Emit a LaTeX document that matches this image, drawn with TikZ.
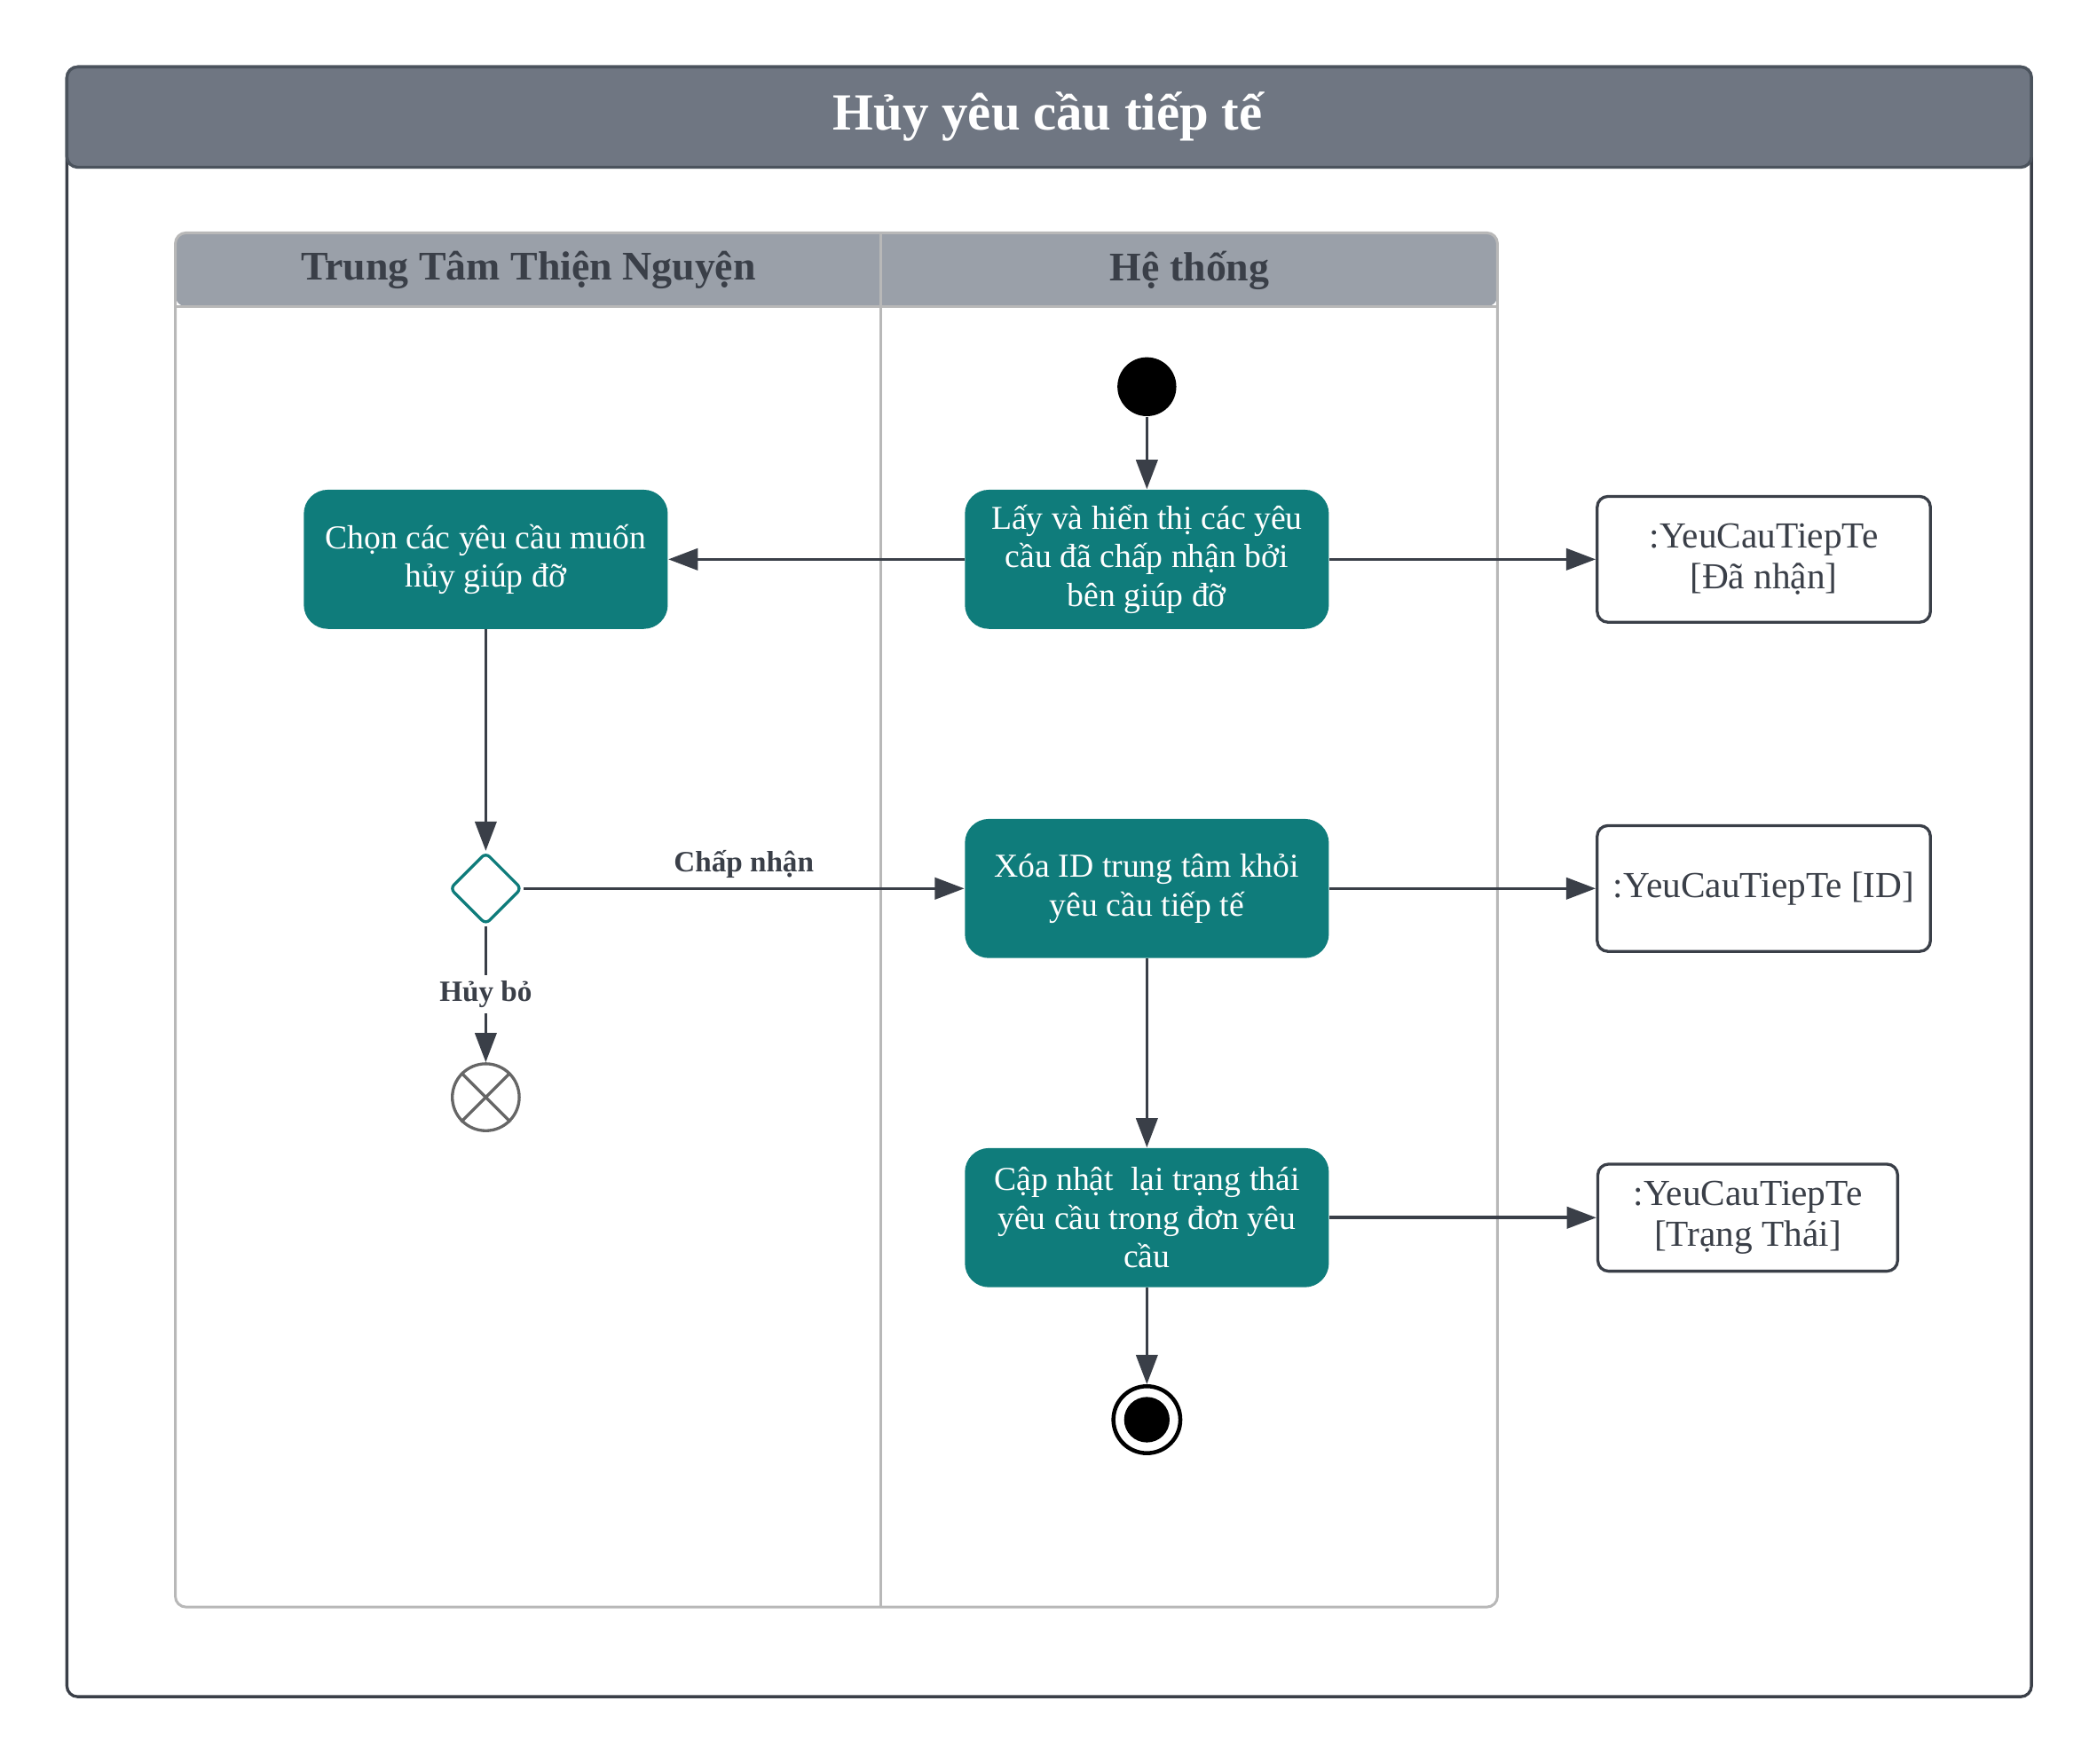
\documentclass[tikz,border=0pt]{standalone}
\usepackage{fontspec}
\setmainfont{Liberation Serif}
\usetikzlibrary{arrows.meta,shapes.geometric}
\definecolor{actteal}{HTML}{0F7C7B}
\definecolor{linedark}{HTML}{3A3F48}
\definecolor{titlegray}{HTML}{6F7682}
\definecolor{titleedge}{HTML}{4B535D}
\definecolor{lanegray}{HTML}{9AA0A9}
\definecolor{lanestroke}{HTML}{B8B8B8}
\definecolor{finalgray}{HTML}{666666}
\tikzset{
  action/.style={fill=actteal, rounded corners=9pt, minimum width=136pt, minimum height=52pt,
    align=center, text=white, inner sep=2pt, font=\fontsize{12.5}{14.5}\selectfont},
  object/.style={draw=linedark, line width=1.1pt, fill=white, rounded corners=4pt,
    minimum width=124.5pt, minimum height=47pt, align=center, text=linedark,
    font=\fontsize{13.7}{15.5}\selectfont},
  flow/.style={draw=linedark, line width=1.2pt, -{Triangle[length=11pt,width=8pt]}},
  guard/.style={font=\bfseries\fontsize{11}{13}\selectfont, text=linedark},
  lanehead/.style={font=\bfseries\fontsize{15.2}{18}\selectfont, text=linedark},
}
\begin{document}
\begin{tikzpicture}[x=0.5pt,y=-0.5pt]
\useasboundingbox (0,0) rectangle (1567,1318);
% frame and title
\draw[linedark, line width=1.1pt, rounded corners=4pt] (50,50) rectangle (1518,1268);
\draw[fill=titlegray, draw=titleedge, line width=1.1pt, rounded corners=4pt] (50,50) rectangle (1518,125);
\node[text=white, font=\bfseries\fontsize{19.5}{22}\selectfont] (title) at (783,87) {Hủy yêu cầu tiếp tế};
% swimlanes
\fill[lanegray, rounded corners=4pt] (131,174) rectangle (1119,229);
\draw[lanestroke, line width=1pt] (131,229) -- (1119,229);
\draw[lanestroke, line width=1pt, rounded corners=4pt] (131,174) rectangle (1119,1201);
\draw[lanestroke, line width=1pt] (658,174) -- (658,1201);
\node[lanehead] (laneA) at (395,202) {Trung Tâm Thiện Nguyện};
\node[lanehead] (laneB) at (889,202) {Hệ thống};
% nodes
\node[circle, fill=black, minimum size=22pt, inner sep=0pt] (start) at (857,289) {};
\node[action] (fetch) at (857,418) {Lấy và hiển thị các yêu\\cầu đã chấp nhận bởi\\bên giúp đỡ};
\node[action] (choose) at (363,418) {Chọn các yêu cầu muốn\\hủy giúp đỡ};
\node[object] (objA) at (1318,418) {:YeuCauTiepTe\\{[}Đã nhận{]}};
\node[diamond, draw=actteal, line width=1.1pt, fill=white, rounded corners=2pt,
  minimum width=27pt, minimum height=27pt, inner sep=0pt] (decide) at (363,664) {};
\node[action] (remove) at (857,664) {Xóa ID trung tâm khỏi\\yêu cầu tiếp tế};
\node[object] (objB) at (1318,664) {:YeuCauTiepTe {[}ID{]}};
\node[circle, draw=finalgray, line width=1.1pt, minimum size=25pt, inner sep=0pt] (cancel) at (363,820) {};
\draw[finalgray, line width=1.1pt] (cancel.north west) -- (cancel.south east)
  (cancel.north east) -- (cancel.south west);
\node[action] (update) at (857,910) {Cập nhật\ \ lại trạng thái\\yêu cầu trong đơn yêu\\cầu};
\node[object, minimum width=112pt, minimum height=40pt] (objC) at (1306,910) {:YeuCauTiepTe\\{[}Trạng Thái{]}};
\node[circle, draw=black, line width=1.5pt, minimum size=25pt, inner sep=0pt] (finish) at (857,1061) {};
\fill (finish.center) circle (8.5pt);
% connectors
\draw[flow] (start) -- (fetch);
\draw[flow] (fetch) -- (choose);
\draw[flow] (fetch) -- (objA);
\draw[flow] (choose) -- (decide);
\draw[flow] (decide) -- node[guard, above] {Chấp nhận} (remove);
\draw[flow] (decide) -- node[guard, fill=white, inner sep=2pt] {Hủy bỏ} (cancel);
\draw[flow] (remove) -- (objB);
\draw[flow] (remove) -- (update);
\draw[flow] (update) -- (objC);
\draw[flow] (update) -- (finish);
\end{tikzpicture}
\end{document}
